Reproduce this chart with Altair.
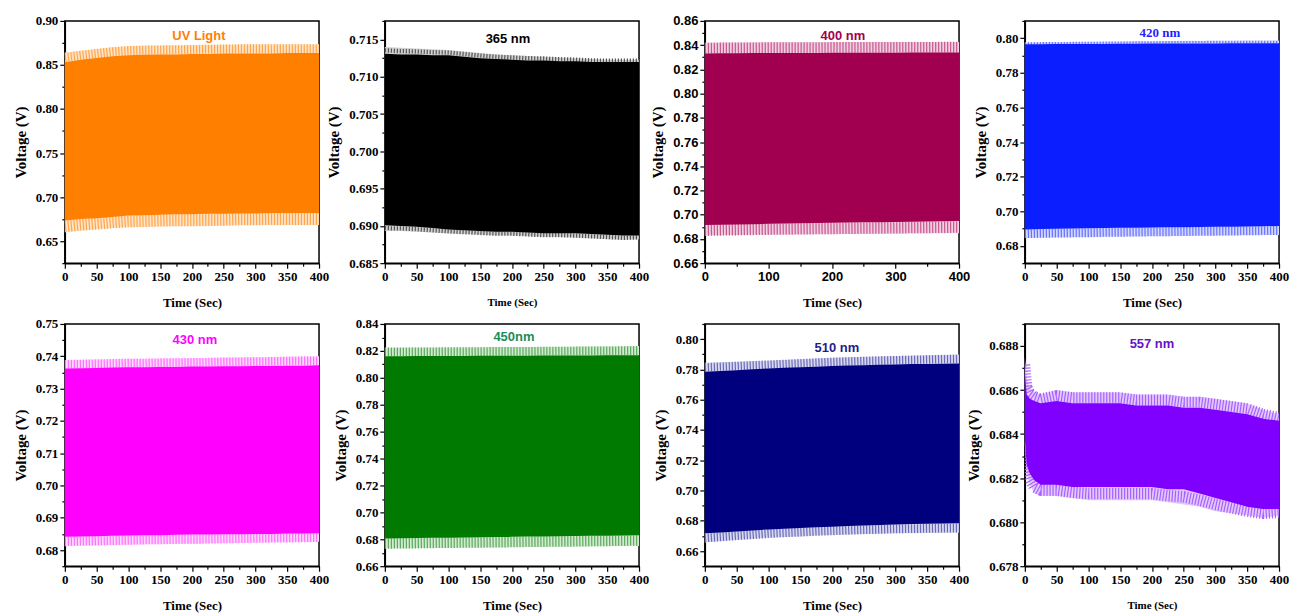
import altair as alt
import pandas as pd

# ---------------- data ----------------
time_s = [0, 25, 50, 75, 100, 125, 150, 175, 200, 225, 250, 275, 300, 325, 350, 375, 400]
time_557 = [0, 3, 8, 15, 25, 50, 75, 100, 125, 150, 175, 200, 225, 250, 275, 300, 325, 350, 375, 400]

# UV light
uv_spike_hi = [0.864, 0.866, 0.868, 0.870, 0.8715, 0.872, 0.872, 0.8725, 0.8725, 0.873, 0.873, 0.8735, 0.8735, 0.8735, 0.8735, 0.8735, 0.8735]
uv_fill_hi = [0.853, 0.856, 0.858, 0.860, 0.861, 0.8615, 0.862, 0.862, 0.8625, 0.8625, 0.863, 0.863, 0.863, 0.863, 0.8635, 0.8635, 0.8635]
uv_fill_lo = [0.6735, 0.675, 0.676, 0.6775, 0.679, 0.6795, 0.680, 0.6805, 0.6805, 0.681, 0.681, 0.6815, 0.6815, 0.682, 0.682, 0.682, 0.682]
uv_spike_lo = [0.660, 0.662, 0.6635, 0.665, 0.6657, 0.666, 0.6665, 0.6668, 0.6668, 0.667, 0.6675, 0.668, 0.668, 0.6683, 0.6683, 0.6683, 0.6683]

# 365 nm
n365_spike_hi = [0.7140, 0.7139, 0.7138, 0.7137, 0.7136, 0.7134, 0.7132, 0.7130, 0.7129, 0.7128, 0.7127, 0.7126, 0.7125, 0.7124, 0.7123, 0.7123, 0.7123]
n365_fill_hi = [0.7131, 0.7130, 0.7130, 0.7129, 0.7129, 0.7127, 0.7125, 0.7124, 0.7123, 0.7122, 0.7122, 0.7121, 0.7121, 0.7120, 0.7120, 0.7120, 0.7120]
n365_fill_lo = [0.6901, 0.6900, 0.6899, 0.6897, 0.6895, 0.6894, 0.6893, 0.6892, 0.6892, 0.6891, 0.6890, 0.6890, 0.6890, 0.6889, 0.6888, 0.6887, 0.6887]
n365_spike_lo = [0.6893, 0.6893, 0.6892, 0.6891, 0.6890, 0.6889, 0.6888, 0.6887, 0.6887, 0.6886, 0.6885, 0.6885, 0.6884, 0.6883, 0.6882, 0.6881, 0.6882]

# 400 nm
n400_spike_hi = [0.8420, 0.8422, 0.8422, 0.8423, 0.8423, 0.8424, 0.8424, 0.8424, 0.8425, 0.8425, 0.8425, 0.8426, 0.8426, 0.8426, 0.8426, 0.8426, 0.8426]
n400_fill_hi = [0.8330, 0.8332, 0.8333, 0.8334, 0.8335, 0.8335, 0.8336, 0.8336, 0.8337, 0.8337, 0.8338, 0.8338, 0.8338, 0.8339, 0.8339, 0.8340, 0.8340]
n400_fill_lo = [0.6915, 0.6918, 0.6920, 0.6922, 0.6925, 0.6927, 0.6929, 0.6931, 0.6933, 0.6935, 0.6937, 0.6938, 0.6940, 0.6942, 0.6944, 0.6946, 0.6948]
n400_spike_lo = [0.6828, 0.6830, 0.6832, 0.6834, 0.6835, 0.6836, 0.6837, 0.6838, 0.6839, 0.6840, 0.6841, 0.6842, 0.6843, 0.6844, 0.6845, 0.6846, 0.6847]

# 420 nm
n420_spike_hi = [0.7975, 0.7976, 0.7977, 0.7978, 0.7979, 0.7980, 0.7981, 0.7982, 0.7983, 0.7984, 0.7985, 0.7985, 0.7986, 0.7986, 0.7987, 0.7987, 0.7987]
n420_fill_hi = [0.7965, 0.7965, 0.7966, 0.7966, 0.7967, 0.7967, 0.7968, 0.7968, 0.7969, 0.7969, 0.7970, 0.7970, 0.7970, 0.7971, 0.7971, 0.7971, 0.7971]
n420_fill_lo = [0.6895, 0.6897, 0.6899, 0.6900, 0.6901, 0.6903, 0.6904, 0.6905, 0.6906, 0.6907, 0.6908, 0.6909, 0.6910, 0.6911, 0.6912, 0.6913, 0.6915]
n420_spike_lo = [0.6845, 0.6847, 0.6848, 0.6849, 0.6850, 0.6852, 0.6853, 0.6854, 0.6855, 0.6856, 0.6857, 0.6858, 0.6859, 0.6860, 0.6861, 0.6862, 0.6863]

# 430 nm
n430_spike_hi = [0.7388, 0.7389, 0.7390, 0.7391, 0.7392, 0.7392, 0.7393, 0.7394, 0.7394, 0.7395, 0.7396, 0.7397, 0.7397, 0.7398, 0.7399, 0.7400, 0.7400]
n430_fill_hi = [0.7362, 0.7363, 0.7364, 0.7365, 0.7366, 0.7366, 0.7367, 0.7367, 0.7368, 0.7368, 0.7369, 0.7369, 0.7370, 0.7370, 0.7371, 0.7371, 0.7372]
n430_fill_lo = [0.6841, 0.6842, 0.6843, 0.6844, 0.6845, 0.6846, 0.6846, 0.6847, 0.6848, 0.6848, 0.6849, 0.6849, 0.6850, 0.6850, 0.6851, 0.6851, 0.6852]
n430_spike_lo = [0.6812, 0.6813, 0.6814, 0.6815, 0.6816, 0.6817, 0.6818, 0.6819, 0.6819, 0.6820, 0.6821, 0.6822, 0.6823, 0.6824, 0.6824, 0.6825, 0.6826]

# 450 nm
n450_spike_hi = [0.8224, 0.8224, 0.8225, 0.8225, 0.8226, 0.8226, 0.8227, 0.8228, 0.8228, 0.8229, 0.8230, 0.8231, 0.8232, 0.8233, 0.8234, 0.8235, 0.8236]
n450_fill_hi = [0.8160, 0.8160, 0.8161, 0.8161, 0.8162, 0.8162, 0.8163, 0.8163, 0.8164, 0.8164, 0.8165, 0.8165, 0.8166, 0.8166, 0.8167, 0.8167, 0.8168]
n450_fill_lo = [0.6806, 0.6808, 0.6809, 0.6811, 0.6812, 0.6814, 0.6815, 0.6817, 0.6818, 0.6820, 0.6821, 0.6823, 0.6824, 0.6826, 0.6827, 0.6829, 0.6830]
n450_spike_lo = [0.6731, 0.6732, 0.6733, 0.6735, 0.6736, 0.6737, 0.6738, 0.6739, 0.6740, 0.6742, 0.6743, 0.6744, 0.6745, 0.6747, 0.6748, 0.6750, 0.6751]

# 510 nm
n510_spike_hi = [0.7844, 0.7847, 0.7850, 0.7854, 0.7857, 0.7862, 0.7867, 0.7872, 0.7877, 0.7880, 0.7883, 0.7886, 0.7888, 0.7891, 0.7894, 0.7897, 0.7899]
n510_fill_hi = [0.7784, 0.7790, 0.7795, 0.7801, 0.7806, 0.7810, 0.7814, 0.7818, 0.7822, 0.7825, 0.7828, 0.7830, 0.7833, 0.7835, 0.7836, 0.7838, 0.7839]
n510_fill_lo = [0.6717, 0.6723, 0.6730, 0.6736, 0.6743, 0.6748, 0.6752, 0.6757, 0.6761, 0.6765, 0.6769, 0.6772, 0.6776, 0.6778, 0.6780, 0.6782, 0.6783]
n510_spike_lo = [0.6657, 0.6665, 0.6673, 0.6680, 0.6688, 0.6693, 0.6697, 0.6702, 0.6706, 0.6709, 0.6712, 0.6714, 0.6717, 0.6718, 0.6719, 0.6720, 0.6721]

# 557 nm
n557_spike_hi = [0.6875, 0.6865, 0.6861, 0.6859, 0.6858, 0.6860, 0.6859, 0.6859, 0.6859, 0.6859, 0.6858, 0.6858, 0.6858, 0.6857, 0.6857, 0.6856, 0.6855, 0.6854, 0.6851, 0.6849]
n557_fill_hi = [0.6868, 0.6858, 0.6856, 0.6855, 0.6854, 0.6855, 0.6854, 0.6854, 0.6854, 0.6854, 0.6853, 0.6853, 0.6853, 0.6852, 0.6852, 0.6851, 0.6850, 0.6849, 0.6847, 0.6846]
n557_fill_lo = [0.6838, 0.6826, 0.6822, 0.6819, 0.6817, 0.6817, 0.6816, 0.6816, 0.6816, 0.6816, 0.6816, 0.6816, 0.6815, 0.6815, 0.6813, 0.6811, 0.6809, 0.6807, 0.6806, 0.6806]
n557_spike_lo = [0.6835, 0.6822, 0.6817, 0.6813, 0.6812, 0.6812, 0.6811, 0.6810, 0.6810, 0.6810, 0.6810, 0.6810, 0.6809, 0.6808, 0.6807, 0.6805, 0.6804, 0.6803, 0.6802, 0.6803]

# axis tick values
x_major = [0, 50, 100, 150, 200, 250, 300, 350, 400]
x_minor = [25, 75, 125, 175, 225, 275, 325, 375]
x_major_400 = [0, 100, 200, 300, 400]
x_minor_400 = [50, 150, 250, 350]

uv_y_major = [0.65, 0.70, 0.75, 0.80, 0.85, 0.90]
uv_y_minor = [0.625, 0.675, 0.725, 0.775, 0.825, 0.875]
n365_y_major = [0.685, 0.690, 0.695, 0.700, 0.705, 0.710, 0.715]
n365_y_minor = [0.6875, 0.6925, 0.6975, 0.7025, 0.7075, 0.7125, 0.7175]
n400_y_major = [0.66, 0.68, 0.70, 0.72, 0.74, 0.76, 0.78, 0.80, 0.82, 0.84, 0.86]
n400_y_minor = [0.67, 0.69, 0.71, 0.73, 0.75, 0.77, 0.79, 0.81, 0.83, 0.85]
n420_y_major = [0.68, 0.70, 0.72, 0.74, 0.76, 0.78, 0.80]
n420_y_minor = [0.67, 0.69, 0.71, 0.73, 0.75, 0.77, 0.79, 0.81]
n430_y_major = [0.68, 0.69, 0.70, 0.71, 0.72, 0.73, 0.74, 0.75]
n430_y_minor = [0.675, 0.685, 0.695, 0.705, 0.715, 0.725, 0.735, 0.745]
n450_y_major = [0.66, 0.68, 0.70, 0.72, 0.74, 0.76, 0.78, 0.80, 0.82, 0.84]
n450_y_minor = [0.67, 0.69, 0.71, 0.73, 0.75, 0.77, 0.79, 0.81, 0.83]
n510_y_major = [0.66, 0.68, 0.70, 0.72, 0.74, 0.76, 0.78, 0.80]
n510_y_minor = [0.65, 0.67, 0.69, 0.71, 0.73, 0.75, 0.77, 0.79, 0.81]
n557_y_major = [0.678, 0.680, 0.682, 0.684, 0.686, 0.688]
n557_y_minor = [0.679, 0.681, 0.683, 0.685, 0.687, 0.689]

SERIF = "Liberation Serif"
SANS = "Liberation Sans"
W, H = 255, 243


def panel(label, t, shi, fhi, flo, slo, color, pale, stripe, tcolor, tfont, tdx, toff,
          ydom, ymaj, ymin, yfmt, xmaj, xmin, lfont=SERIF, xtsize=13, ytsize=15):
    df = pd.DataFrame({"t": t, "shi": shi, "fhi": fhi, "flo": flo, "slo": slo})
    span = ydom[1] - ydom[0]
    # pixel thickness of the spiky fringes (derived from the data, for the stripe texture)
    w_hi = sum(a - b for a, b in zip(shi, fhi)) / len(t) / span * H
    w_lo = sum(a - b for a, b in zip(flo, slo)) / len(t) / span * H
    xs = alt.Scale(domain=[0, 400], nice=False, zero=False)
    ys = alt.Scale(domain=ydom, nice=False, zero=False)
    common = dict(grid=False, tickColor="black", tickWidth=1.2, labelColor="black",
                  labelFont=lfont, labelFontWeight="bold", labelFontSize=13,
                  titleFont=SERIF, titleFontWeight="bold", titleColor="black",
                  labelFlush=False, labelOverlap=False, domainColor="black", domainWidth=1.5)
    ax_x = alt.Axis(values=xmaj, orient="bottom", title="Time (Sec)", tickSize=5,
                    labelPadding=2, titleFontSize=xtsize, titlePadding=13, format="d", **common)
    ax_y = alt.Axis(values=ymaj, orient="left", title="Voltage (V)", tickSize=5,
                    labelPadding=2, titleFontSize=ytsize, titlePadding=7, format=yfmt, **common)
    mx = alt.Axis(values=xmin, orient="bottom", labels=False, domain=False, grid=False,
                  tickSize=3, tickColor="black", tickWidth=1.2, title=None)
    my = alt.Axis(values=ymin, orient="left", labels=False, domain=False, grid=False,
                  tickSize=3, tickColor="black", tickWidth=1.2, title=None)
    base = alt.Chart(df).transform_calculate(
        mid_hi="(datum.shi + datum.fhi) / 2", mid_lo="(datum.slo + datum.flo) / 2"
    )
    fringe = base.mark_area(color=pale).encode(
        x=alt.X("t:Q", scale=xs, axis=ax_x),
        y=alt.Y("slo:Q", scale=ys, axis=ax_y),
        y2="shi:Q",
    )
    stripe_style = dict(color=stripe, strokeDash=[1.2, 1.8], strokeJoin="bevel",
                        strokeCap="butt", clip=True)
    stripes_hi = base.mark_line(strokeWidth=w_hi, **stripe_style).encode(
        x=alt.X("t:Q", scale=xs, axis=None),
        y=alt.Y("mid_hi:Q", scale=ys, axis=None),
    )
    stripes_lo = base.mark_line(strokeWidth=w_lo, **stripe_style).encode(
        x=alt.X("t:Q", scale=xs, axis=None),
        y=alt.Y("mid_lo:Q", scale=ys, axis=None),
    )
    core = base.mark_area(color=color).encode(
        x=alt.X("t:Q", scale=xs, axis=None),
        y=alt.Y("flo:Q", scale=ys, axis=None),
        y2="fhi:Q",
    )
    minor = base.mark_area(opacity=0).encode(
        x=alt.X("t:Q", scale=xs, axis=mx),
        y=alt.Y("flo:Q", scale=ys, axis=my),
        y2="fhi:Q",
    )
    return (
        alt.layer(fringe, stripes_hi, stripes_lo, core, minor)
        .resolve_axis(x="independent", y="independent")
        .properties(
            width=W, height=H,
            title=alt.TitleParams(label, color=tcolor, font=tfont, fontSize=13,
                                  fontWeight="bold", anchor="middle", frame="group",
                                  baseline="middle", offset=-toff, dx=tdx),
        )
    )


p1 = panel("UV Light", time_s, uv_spike_hi, uv_fill_hi, uv_fill_lo, uv_spike_lo,
           "#FF8000", "#FFE3C4", "#FFA64D", "#FF8000", SANS, 7, 34,
           [0.625, 0.90], uv_y_major, uv_y_minor, ".2f", x_major, x_minor)
p2 = panel("365 nm", time_s, n365_spike_hi, n365_fill_hi, n365_fill_lo, n365_spike_lo,
           "#000000", "#D0D0D0", "#555555", "#000000", SANS, -4, 32,
           [0.685, 0.7175], n365_y_major, n365_y_minor, ".3f", x_major, x_minor, xtsize=11)
p3 = panel("400 nm", time_s, n400_spike_hi, n400_fill_hi, n400_fill_lo, n400_spike_lo,
           "#A0004F", "#F0CFE0", "#C8578F", "#A0004F", SANS, 11, 34,
           [0.66, 0.86], n400_y_major, n400_y_minor, ".2f", x_major_400, x_minor_400, lfont=SANS)
p4 = panel("420 nm", time_s, n420_spike_hi, n420_fill_hi, n420_fill_lo, n420_spike_lo,
           "#0A1EFF", "#D2D6FF", "#6672FF", "#1E1EFF", SERIF, 8, 26,
           [0.67, 0.81], n420_y_major, n420_y_minor, ".2f", x_major, x_minor)
p5 = panel("430 nm", time_s, n430_spike_hi, n430_fill_hi, n430_fill_lo, n430_spike_lo,
           "#FF00FF", "#FFD6FF", "#FF70FF", "#FF00FF", SANS, 3, 35,
           [0.675, 0.75], n430_y_major, n430_y_minor, ".2f", x_major, x_minor)
p6 = panel("450nm", time_s, n450_spike_hi, n450_fill_hi, n450_fill_lo, n450_spike_lo,
           "#007A00", "#D2EAD2", "#5AAA5A", "#1A8C5A", SANS, 2, 32,
           [0.66, 0.84], n450_y_major, n450_y_minor, ".2f", x_major, x_minor)
p7 = panel("510 nm", time_s, n510_spike_hi, n510_fill_hi, n510_fill_lo, n510_spike_lo,
           "#00007F", "#D8D8F0", "#6A6AB8", "#1E1E8C", SANS, 5, 38,
           [0.65, 0.81], n510_y_major, n510_y_minor, ".2f", x_major, x_minor)
p8 = panel("557 nm", time_557, n557_spike_hi, n557_fill_hi, n557_fill_lo, n557_spike_lo,
           "#7F00FF", "#E2C8FF", "#A860FF", "#6A10C8", SANS, 0, 34,
           [0.678, 0.689], n557_y_major, n557_y_minor, ".3f", x_major, x_minor, xtsize=11)

chart = (
    alt.concat(p1, p2, p3, p4, p5, p6, p7, p8, columns=4,
               spacing=alt.RowColnumber(row=61, column=66), bounds="flush")
    .properties(padding={"left": 4, "top": 5, "right": 0, "bottom": 0})
    .configure_view(stroke="black", strokeWidth=1.5)
)

chart.save("out.html", embed_options={"renderer": "svg", "actions": False})
